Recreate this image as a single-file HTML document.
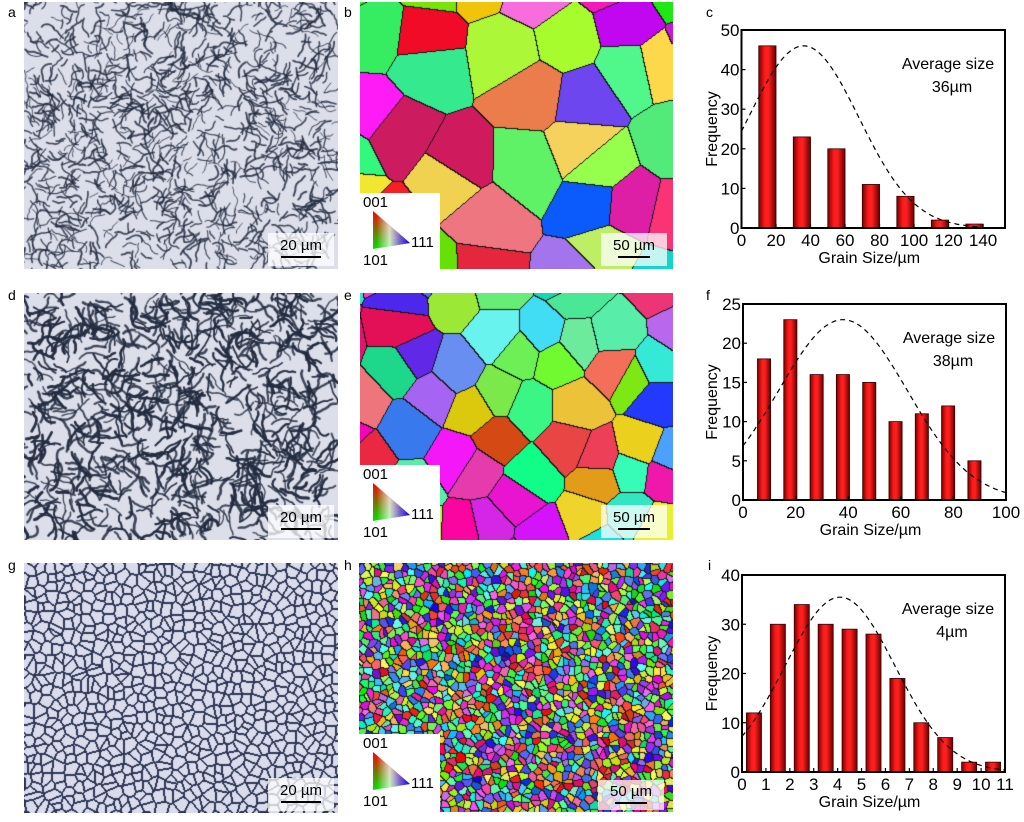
<!DOCTYPE html>
<html><head><meta charset="utf-8"><style>
body{margin:0;width:1024px;height:822px;background:#fff;position:relative;overflow:hidden;font-family:"Liberation Sans",Arial,sans-serif}
.lbl{position:absolute;font-size:14px;color:#000}
canvas{position:absolute}
.sb{position:absolute;background:rgba(255,255,255,0.75);font-size:15px;text-align:center;line-height:18px}
.sb div{height:2px;background:#000;margin:1px auto 0}
.leg{position:absolute;background:#fff}
</style></head><body>
<div class="lbl" style="left:8px;top:4px">a</div>
<div class="lbl" style="left:344px;top:4px">b</div>
<div class="lbl" style="left:706px;top:4px">c</div>
<div class="lbl" style="left:8px;top:287px">d</div>
<div class="lbl" style="left:344px;top:287px">e</div>
<div class="lbl" style="left:706px;top:287px">f</div>
<div class="lbl" style="left:8px;top:557px">g</div>
<div class="lbl" style="left:344px;top:557px">h</div>
<div class="lbl" style="left:708px;top:557px">i</div>

<canvas id="ca" width="314" height="267" style="left:24px;top:2px"></canvas>
<canvas id="cd" width="314" height="247" style="left:24px;top:293px"></canvas>
<canvas id="cg" width="314" height="250" style="left:24px;top:563px"></canvas>
<canvas id="cb" width="313" height="267" style="left:360px;top:2px"></canvas>
<canvas id="ce" width="313" height="247" style="left:360px;top:293px"></canvas>
<canvas id="ch" width="314" height="249" style="left:359px;top:563px"></canvas>

<div class="sb" style="left:268px;top:233px;width:66px;height:33px;padding-top:4px;box-sizing:border-box">20 µm<div style="width:40px"></div></div>
<div class="sb" style="left:268px;top:505px;width:66px;height:33px;padding-top:4px;box-sizing:border-box">20 µm<div style="width:40px"></div></div>
<div class="sb" style="left:268px;top:778px;width:66px;height:33px;padding-top:4px;box-sizing:border-box">20 µm<div style="width:40px"></div></div>
<div class="sb" style="left:601px;top:233px;width:66px;height:33px;padding-top:4px;box-sizing:border-box">50 µm<div style="width:32px"></div></div>
<div class="sb" style="left:601px;top:505px;width:66px;height:33px;padding-top:4px;box-sizing:border-box">50 µm<div style="width:32px"></div></div>
<div class="sb" style="left:598px;top:780px;width:66px;height:30px;padding-top:3px;box-sizing:border-box">50 µm<div style="width:32px"></div></div>

<div id="legs"></div>
<svg id="charts" width="1024" height="822" style="position:absolute;left:0;top:0"></svg>

<script>
// ---------- chart data ----------
const cCenters=[15,35,55,75,95,115,135];
const cValues=[46,23,20,11,8,2,1];
const cXTicks=[0,20,40,60,80,100,120,140];
const cYTicks=[0,10,20,30,40,50];
const cFit=[46,36,32]; // peak, mean, sd of fitted curve
const fCenters=[8,18,28,38,48,58,68,78,88];
const fValues=[18,23,16,16,15,10,11,12,5];
const fXTicks=[0,20,40,60,80,100];
const fYTicks=[0,5,10,15,20,25];
const fFit=[23,38,24.5];
const iCenters=[0.5,1.5,2.5,3.5,4.5,5.5,6.5,7.5,8.5,9.5,10.5];
const iValues=[12,30,34,30,29,28,19,10,7,2,2];
const iXTicks=[0,1,2,3,4,5,6,7,8,9,10,11];
const iYTicks=[0,10,20,30,40];
const iFit=[35.5,4.1,2.3];

const NS='http://www.w3.org/2000/svg';
const svg=document.getElementById('charts');
function mk(tag,at,parent){const e=document.createElementNS(NS,tag);for(const k in at)e.setAttribute(k,at[k]);(parent||svg).appendChild(e);return e;}
let defs=mk('defs',{});
let g=mk('linearGradient',{id:'barg',x1:0,x2:1,y1:0,y2:0},defs);
[['0','#7a0000'],['0.35','#ff1a1a'],['0.55','#ff2020'],['1','#6a0000']].forEach(s=>mk('stop',{offset:s[0],'stop-color':s[1]},g));
let tg=mk('linearGradient',{id:'trg',x1:0,x2:0,y1:0,y2:1},defs);
mk('stop',{offset:0,'stop-color':'#ff0000'},tg);mk('stop',{offset:1,'stop-color':'#00e000'},tg);
let tb=mk('linearGradient',{id:'trb',x1:0,x2:1,y1:0,y2:0},defs);
mk('stop',{offset:0.1,'stop-color':'#ffffff','stop-opacity':0},tb);mk('stop',{offset:0.45,'stop-color':'#ffffff','stop-opacity':0.75},tb);mk('stop',{offset:0.75,'stop-color':'#8040ff','stop-opacity':0.8},tb);mk('stop',{offset:1,'stop-color':'#0000ff','stop-opacity':1},tb);

function chart(o){
  const X=v=>o.x0+(v-o.xmin)/(o.xmax-o.xmin)*(o.x1-o.x0);
  const Y=v=>o.y1-(v/o.ymax)*(o.y1-o.y0);
  const gr=mk('g',{});
  
  
  o.centers.forEach((c,i)=>{
    const w=X(c+o.bw/2)-X(c-o.bw/2);
    const r=mk('rect',{x:X(c-o.bw/2),y:Y(o.values[i]),width:w,height:Y(0)-Y(o.values[i]),fill:'url(#barg)',stroke:'#300','stroke-width':0.8},gr);
    
    
  });
  let d='';const N=120;
  for(let k=0;k<=N;k++){const v=o.xmin+(o.xmax-o.xmin)*k/N;const yv=o.fit[0]*Math.exp(-Math.pow(v-o.fit[1],2)/(2*o.fit[2]*o.fit[2]));
    const py=Y(yv); if(py>o.y1-1) continue; d+=(d?'L':'M')+X(v).toFixed(1)+','+py.toFixed(1);}
  const p=mk('path',{d:d,fill:'none',stroke:'#000','stroke-width':1.2,'stroke-dasharray':'5,4'},gr);
  
  
  const box=mk('rect',{x:o.x0,y:o.y0,width:o.x1-o.x0,height:o.y1-o.y0,fill:'none',stroke:'#000','stroke-width':2},gr);
  
  
  o.xt.forEach(t=>{mk('line',{x1:X(t),x2:X(t),y1:o.y1,y2:o.y1-4,stroke:'#000','stroke-width':1.2},gr);
    const tx=mk('text',{x:X(t),y:o.y1+18,'font-size':17,'text-anchor':'middle'},gr);tx.textContent=t;
    
    });
  o.yt.forEach(t=>{mk('line',{x1:o.x0,x2:o.x0+4,y1:Y(t),y2:Y(t),stroke:'#000','stroke-width':1.2},gr);
    const tx=mk('text',{x:o.x0-2,y:Y(t)+6,'font-size':17,'text-anchor':'end'},gr);tx.textContent=t;
    
    });
  const xt=mk('text',{x:(o.x0+o.x1)/2-4,y:o.y1+35,'font-size':16,'text-anchor':'middle'},gr);xt.textContent='Grain Size/µm';
  
  
  const yt=mk('text',{x:0,y:0,'font-size':16,'text-anchor':'middle',transform:`translate(717,${(o.y0+o.y1)/2}) rotate(-90)`},gr);yt.textContent='Frequency';
  
  
  const a1=mk('text',{x:o.x1-57,y:o.y0+39,'font-size':16,'text-anchor':'middle'},gr);a1.textContent='Average size';
  
  
  const a2=mk('text',{x:o.x1-53,y:o.y0+62,'font-size':16,'text-anchor':'middle'},gr);a2.textContent=o.avg;
  
  
}
chart({name:'chart-c',x0:741.5,x1:1005,y0:30,y1:228,xmin:0,xmax:152.7,ymax:50,centers:cCenters,values:cValues,bw:10,xt:cXTicks,yt:cYTicks,fit:cFit,avg:'36µm'});
chart({name:'chart-f',x0:743,x1:1006,y0:304,y1:500,xmin:0,xmax:100,ymax:25,centers:fCenters,values:fValues,bw:5,xt:fXTicks,yt:fYTicks,fit:fFit,avg:'38µm'});
chart({name:'chart-i',x0:742,x1:1005,y0:575,y1:772,xmin:0,xmax:11,ymax:40,centers:iCenters,values:iValues,bw:0.63,xt:iXTicks,yt:iYTicks,fit:iFit,avg:'4µm'});

function legend(top,bottom){
  const l=document.createElement('div');l.className='leg';
  
  
  l.style.cssText=`left:359px;top:${top}px;width:81px;height:${bottom-top}px`;
  document.body.appendChild(l);
  const h=bottom-top;
  const s=document.createElementNS(NS,'svg');s.setAttribute('width',81);s.setAttribute('height',h);l.appendChild(s);
  const t=(txt,x,y)=>{const e=mk('text',{x:x,y:y,'font-size':15},s);e.textContent=txt;};
  t('001',4,14);
  const pts=`14,18 14,56 51,50`;
  mk('polygon',{points:pts,fill:'url(#trg)'},s);
  mk('polygon',{points:pts,fill:'url(#trb)'},s);
  t('111',52,54);t('101',4,72);
}
legend(193,269);legend(465,540);legend(734,812);

let seed=12345;function rnd(){seed=(seed*1103515245+12345)&0x7fffffff;return seed/0x7fffffff;}
function optical(id,n,len,wid,curl){
  const c=document.getElementById(id),x=c.getContext('2d');
  x.fillStyle='#dcdeea';x.fillRect(0,0,c.width,c.height);
  x.strokeStyle='rgba(35,45,65,0.85)';x.lineCap='round';x.lineJoin='round';
  for(let i=0;i<n;i++){
    let px=rnd()*c.width,py=rnd()*c.height,a=rnd()*6.28;
    x.lineWidth=wid*(0.6+rnd()*0.8);x.beginPath();x.moveTo(px,py);
    const L=len*(0.4+rnd());
    for(let k=0;k<L;k+=3){a+=(rnd()-0.5)*curl;px+=3*Math.cos(a);py+=3*Math.sin(a);x.lineTo(px,py);}
    x.stroke();
  }
}
function voronoi(id,cell,colorFn,edge,bg,thick){
  const c=document.getElementById(id),x=c.getContext('2d');
  const W=c.width,H=c.height,gw=Math.ceil(W/cell)+2,gh=Math.ceil(H/cell)+2;
  const sx=[],sy=[],col=[];
  for(let j=0;j<gh;j++)for(let i=0;i<gw;i++){sx.push((i-1+rnd())*cell);sy.push((j-1+rnd())*cell);col.push(colorFn());}
  const img=x.createImageData(W,H);const own=new Int32Array(W*H);
  for(let y=0;y<H;y++)for(let xx=0;xx<W;xx++){
    const gi=Math.floor(xx/cell)+1,gj=Math.floor(y/cell)+1;let best=1e9,bi=0;
    for(let dj=-1;dj<=1;dj++)for(let di=-1;di<=1;di++){const ii=gi+di,jj=gj+dj;if(ii<0||jj<0||ii>=gw||jj>=gh)continue;
      const k=jj*gw+ii,dx=sx[k]-xx,dy=(sy[k]-y);const d=dx*dx+dy*dy;if(d<best){best=d;bi=k;}}
    own[y*W+xx]=bi;}
  for(let y=0;y<H;y++)for(let xx=0;xx<W;xx++){
    const p=y*W+xx,o=own[p];
    let b=(xx<W-1&&own[p+1]!=o)||(y<H-1&&own[p+W]!=o);
    if(thick&&!b) b=(xx>0&&own[p-1]!=o)||(y>0&&own[p-W]!=o);
    const cc=b?edge:(bg||col[o]);
    img.data[p*4]=cc[0];img.data[p*4+1]=cc[1];img.data[p*4+2]=cc[2];img.data[p*4+3]=255;}
  x.putImageData(img,0,0);
}
function hsl(h,s,l){const a=s*Math.min(l,1-l);const f=n=>{const k=(n+h/30)%12;return Math.round(255*(l-a*Math.max(-1,Math.min(k-3,9-k,1))));};return [f(0),f(8),f(4)];}
const ipf=()=>hsl(rnd()*360,0.75+rnd()*0.25,0.45+rnd()*0.25);
optical('ca',1100,18,1.4,1.3);
optical('cd',1200,24,2.0,1.2);
voronoi('cg',10,()=>[0,0,0],[45,55,85],[218,220,236],true);
voronoi('cb',58,ipf,[20,20,20]);
voronoi('ce',42,ipf,[20,20,20]);
voronoi('ch',7,ipf,[30,30,30]);
</script>
</body></html>
